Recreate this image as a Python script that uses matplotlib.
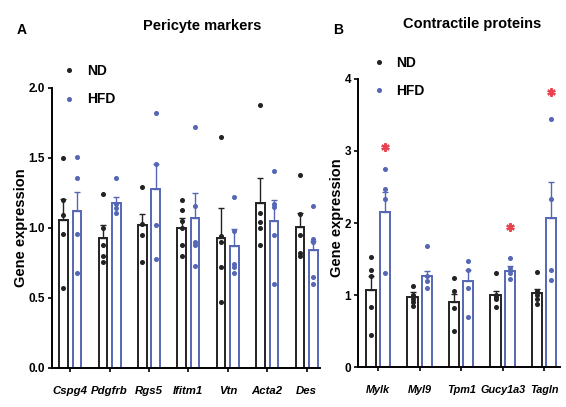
import numpy as np
import matplotlib
matplotlib.use("Agg")
import matplotlib.pyplot as plt
from matplotlib.lines import Line2D

# fonts: bold sans like the figure
plt.rcParams['font.family'] = ['Liberation Sans', 'DejaVu Sans']
plt.rcParams['font.weight'] = 'bold'
plt.rcParams['axes.labelweight'] = 'bold'

ND_COLOR = '#222222'
HFD_COLOR = '#5566b5'
STAR_COLOR = '#e8434f'

# Panel A - pericyte markers
genes_a = ['Cspg4', 'Pdgfrb', 'Rgs5', 'Ifitm1', 'Vtn', 'Acta2', 'Des']
nd_mean_a = [1.06, 0.93, 1.02, 1.00, 0.93, 1.18, 1.01]
nd_sem_a = [0.15, 0.09, 0.08, 0.07, 0.21, 0.18, 0.10]
hfd_mean_a = [1.12, 1.18, 1.28, 1.07, 0.87, 1.05, 0.84]
hfd_sem_a = [0.14, 0.04, 0.18, 0.18, 0.12, 0.15, 0.07]
nd_dots_a = [[1.50, 1.20, 1.09, 0.96, 0.57], [1.24, 1.00, 0.88, 0.80, 0.76],
             [1.29, 1.03, 0.95, 0.76], [1.20, 1.13, 1.05, 1.00, 0.88, 0.80],
             [1.65, 0.94, 0.90, 0.72, 0.47], [1.88, 1.11, 1.04, 1.00, 0.88],
             [1.38, 1.10, 0.95, 0.82, 0.80]]
hfd_dots_a = [[1.51, 1.36, 0.96, 0.68], [1.36, 1.17, 1.14, 1.11],
              [1.82, 1.46, 1.02, 0.78], [1.72, 1.16, 0.90, 0.88, 0.73],
              [1.22, 0.98, 0.74, 0.72, 0.68], [1.41, 1.17, 1.15, 0.95, 0.60],
              [1.16, 0.92, 0.90, 0.65, 0.60]]

# Panel B - contractile proteins
genes_b = ['Mylk', 'Myl9', 'Tpm1', 'Gucy1a3', 'Tagln']
nd_mean_b = [1.07, 0.98, 0.90, 1.00, 1.03]
nd_sem_b = [0.20, 0.06, 0.12, 0.06, 0.05]
hfd_mean_b = [2.15, 1.26, 1.20, 1.33, 2.07]
hfd_sem_b = [0.28, 0.08, 0.15, 0.08, 0.50]
nd_dots_b = [[1.53, 1.35, 1.26, 0.84, 0.45], [1.12, 1.00, 0.95, 0.90, 0.85],
             [1.24, 1.05, 0.82, 0.50], [1.31, 1.00, 0.97, 0.95, 0.83],
             [1.32, 1.05, 1.00, 0.95, 0.88]]
hfd_dots_b = [[2.75, 2.47, 2.33, 1.30], [1.68, 1.27, 1.20, 1.10],
              [1.47, 1.35, 1.10, 0.70], [1.52, 1.37, 1.30, 1.23],
              [3.45, 2.33, 1.35, 1.21]]
star_b = [3.05, None, None, 1.95, 3.82]


def draw_panel(ax, genes, nd_mean, nd_sem, hfd_mean, hfd_sem, nd_dots, hfd_dots, width, lblsize):
    x = np.arange(len(genes))
    off = 0.17
    for pos, mean, sem, dots, col in [(x - off, nd_mean, nd_sem, nd_dots, ND_COLOR),
                                      (x + off, hfd_mean, hfd_sem, hfd_dots, HFD_COLOR)]:
        ax.bar(pos, mean, width, color='white', edgecolor=col, linewidth=1.4, zorder=2)
        ax.errorbar(pos, mean, yerr=[np.zeros(len(mean)), sem], fmt='none',
                    ecolor=col, elinewidth=1.0, capsize=2.5, capthick=1.0, zorder=3)
        for p, d in zip(pos, dots):
            ax.plot([p] * len(d), d, 'o', color=col, markersize=2.6, zorder=4)
    ax.set_xticks(x)
    ax.set_xticklabels(genes, style='italic', fontsize=lblsize)
    ax.spines['top'].set_visible(False)
    ax.spines['right'].set_visible(False)
    ax.spines['left'].set_linewidth(1.4)
    ax.spines['bottom'].set_linewidth(1.4)
    ax.tick_params(width=1.2, length=3, labelsize=8.5, pad=2)
    ax.tick_params(axis='x', pad=10, labelsize=lblsize)
    ax.set_ylabel('Gene expression', fontsize=10.5)
    return x


fig = plt.figure(figsize=(5.66, 4.07), dpi=100)

ax_a = fig.add_axes([0.092, 0.096, 0.474, 0.688])
draw_panel(ax_a, genes_a, nd_mean_a, nd_sem_a, hfd_mean_a, hfd_sem_a,
           nd_dots_a, hfd_dots_a, 0.22, 8.2)
ax_a.set_xlim(-0.46, 6.35)
ax_a.set_ylim(0, 2.0)
ax_a.set_yticks([0.0, 0.5, 1.0, 1.5, 2.0])
ax_a.set_yticklabels(['0.0', '0.5', '1.0', '1.5', '2.0'])
ax_a.yaxis.set_label_coords(-0.09, 0.5)

ax_b = fig.add_axes([0.633, 0.098, 0.357, 0.708])
xb = draw_panel(ax_b, genes_b, nd_mean_b, nd_sem_b, hfd_mean_b, hfd_sem_b,
                nd_dots_b, hfd_dots_b, 0.25, 7.8)
ax_b.set_xlim(-0.48, 4.39)
ax_b.set_ylim(0, 4)
ax_b.set_yticks([0, 1, 2, 3, 4])
ax_b.yaxis.set_label_coords(-0.07, 0.52)
for xi, s in zip(xb, star_b):
    if s is not None:
        ax_b.plot(xi + 0.17, s, marker=(6, 2, 0), color=STAR_COLOR,
                  markersize=6, markeredgewidth=1.6, zorder=5)

# legends
handles = [Line2D([], [], marker='o', color=ND_COLOR, linestyle='none', markersize=2.6, label='ND'),
           Line2D([], [], marker='o', color=HFD_COLOR, linestyle='none', markersize=2.6, label='HFD')]
for bx, by in [(0.112, 0.843), (0.659, 0.863)]:
    fig.legend(handles=handles, loc='upper left', bbox_to_anchor=(bx, by), frameon=False,
               fontsize=10, labelspacing=1.05, handlelength=0.8, handletextpad=0.9,
               borderpad=0, borderaxespad=0)

# titles and panel letters
fig.text(0.357, 0.935, 'Pericyte markers', ha='center', va='center', fontsize=10.5)
fig.text(0.834, 0.942, 'Contractile proteins', ha='center', va='center', fontsize=10.5)
fig.text(0.039, 0.926, 'A', ha='center', va='center', fontsize=10)
fig.text(0.598, 0.926, 'B', ha='center', va='center', fontsize=10)

fig.savefig('out.png', dpi=100)
